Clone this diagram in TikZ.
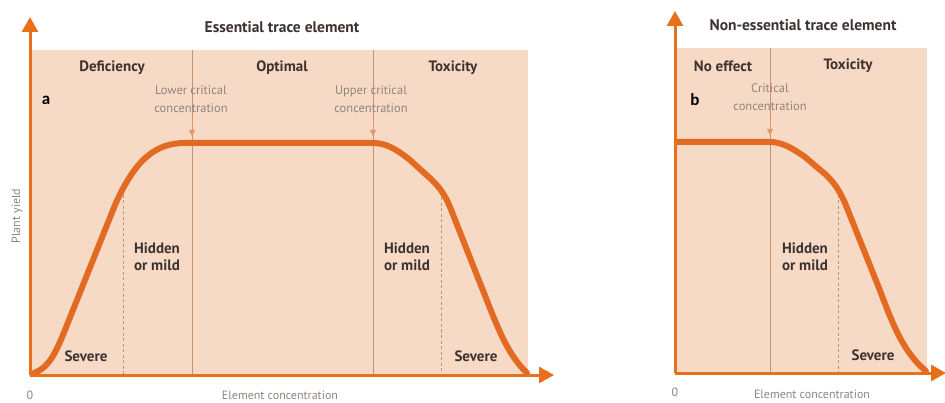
\documentclass[tikz,border=0pt]{standalone}
\usepackage{fontspec}
\setsansfont{PT Sans}
\newfontfamily\panelfont{Carlito}
\usepackage{xcolor}
\usetikzlibrary{arrows.meta}

\definecolor{peach}{RGB}{247,218,197}
\definecolor{curveor}{RGB}{226,106,34}
\definecolor{axisor}{RGB}{233,112,26}
\definecolor{sepline}{RGB}{196,146,112}
\definecolor{darktxt}{RGB}{60,50,48}
\definecolor{graytxt}{RGB}{145,132,126}
\definecolor{tipor}{RGB}{228,150,104}

\begin{document}
\begin{tikzpicture}[x=1pt,y=-1pt,
  axis/.style={axisor, line width=3pt, -{Triangle[length=15pt,width=16pt]}},
  yieldcurve/.style={curveor, line width=6pt, line cap=round, line join=round},
  sep/.style={sepline, line width=0.9pt},
  sepdash/.style={sepline, line width=0.9pt, dash pattern=on 3pt off 2.5pt},
  heading/.style={font=\sffamily\bfseries\fontsize{15.5}{17}\selectfont, text=darktxt},
  zone/.style={font=\sffamily\bfseries\fontsize{15}{17.5}\selectfont, text=darktxt, align=left, inner sep=0pt},
  note/.style={font=\sffamily\fontsize{12.5}{18}\selectfont, text=graytxt, align=center, inner sep=0pt},
  axlabel/.style={font=\sffamily\fontsize{12}{14}\selectfont, text=graytxt, inner sep=0pt},
  panel/.style={font=\panelfont\bfseries\fontsize{17}{19}\selectfont, text=black, inner sep=0pt},
  crit/.style={tipor, line width=0.8pt, -{Triangle[length=6pt,width=6pt]}}]

\useasboundingbox (0,0) rectangle (945,403);

% panel a : essential trace element
\fill[peach] (30,50) rectangle (528,375);
\draw[sep] (192,50) -- (192,375);
\draw[sep] (373,50) -- (373,375);
\draw[sepdash] (123,195) -- (123,375);
\draw[sepdash] (441,192) -- (441,375);

\draw[yieldcurve] (34,373) .. controls (48,368) and (55,355) .. (65,330)
  -- (115,205) .. controls (135,160) and (155,143) .. (185,143)
  -- (373,143) .. controls (385,143) and (395,148) .. (410,160)
  -- (432,180) .. controls (440,188) and (445,195) .. (450,207)
  -- (480,283) .. controls (495,320) and (505,352) .. (527,373);

\coordinate (oA) at (30,375);
\coordinate (yA) at (30,17);
\coordinate (xA) at (554,375);
\draw[axis] (oA) -- (yA);
\draw[axis] (oA) -- (xA);

\node[heading] (ttlA) at (282,27) {Essential trace element};
\node[zone] (defic) at (112,68) {Deficiency};
\node[zone] (optim) at (282,68) {Optimal};
\node[zone] (toxA) at (453,68) {Toxicity};
\node[note] (lowcc) at (191,99) {Lower critical\\concentration};
\node[note] (uppcc) at (371,99) {Upper critical\\concentration};
\node[panel] (lblA) at (46,100) {a};
\node[zone] (hidA) at (157,257) {Hidden\\or mild};
\node[zone] (hidA2) at (407,257) {Hidden\\or mild};
\node[zone] (sevA) at (86,356) {Severe};
\node[zone] (sevA2) at (476,356) {Severe};
\node[axlabel] (zeroA) at (30,395) {0};
\node[axlabel] (xlabA) at (280,395) {Element concentration};
\node[axlabel, rotate=90] (ylab) at (17,216) {Plant yield};

\coordinate (lowpt) at (192,136);
\coordinate (upppt) at (373,136);
\draw[crit] (lowcc.south -| lowpt) ++(0,4) -- (lowpt);
\draw[crit] (uppcc.south -| upppt) ++(0,4) -- (upppt);

% panel b : non-essential trace element
\fill[peach] (675,48) rectangle (927,373);
\draw[sep] (770,48) -- (770,373);
\draw[sepdash] (838,195) -- (838,373);

\draw[yieldcurve] (677,142) -- (770,142)
  .. controls (782,142) and (792,148) .. (805,157)
  -- (825,174) .. controls (835,183) and (840,192) .. (845,203)
  -- (877,283) .. controls (889,313) and (900,350) .. (926,371);

\coordinate (oB) at (675,373);
\coordinate (yB) at (675,11);
\coordinate (xB) at (946,373);
\draw[axis] (oB) -- (yB);
\draw[axis] (oB) -- (xB);

\node[heading] (ttlB) at (803,25) {Non-essential trace element};
\node[zone] (noeff) at (723,66) {No effect};
\node[zone] (toxB) at (848,66) {Toxicity};
\node[note] (critc) at (770,97) {Critical\\concentration};
\node[panel] (lblB) at (695,100) {b};
\node[zone] (hidB) at (805,257) {Hidden\\or mild};
\node[zone] (sevB) at (873,355) {Severe};
\node[axlabel] (zeroB) at (675,392) {0};
\node[axlabel] (xlabB) at (812,394) {Element concentration};

\coordinate (critpt) at (770,135);
\draw[crit] (critc.south -| critpt) ++(0,4) -- (critpt);

\end{tikzpicture}
\end{document}
